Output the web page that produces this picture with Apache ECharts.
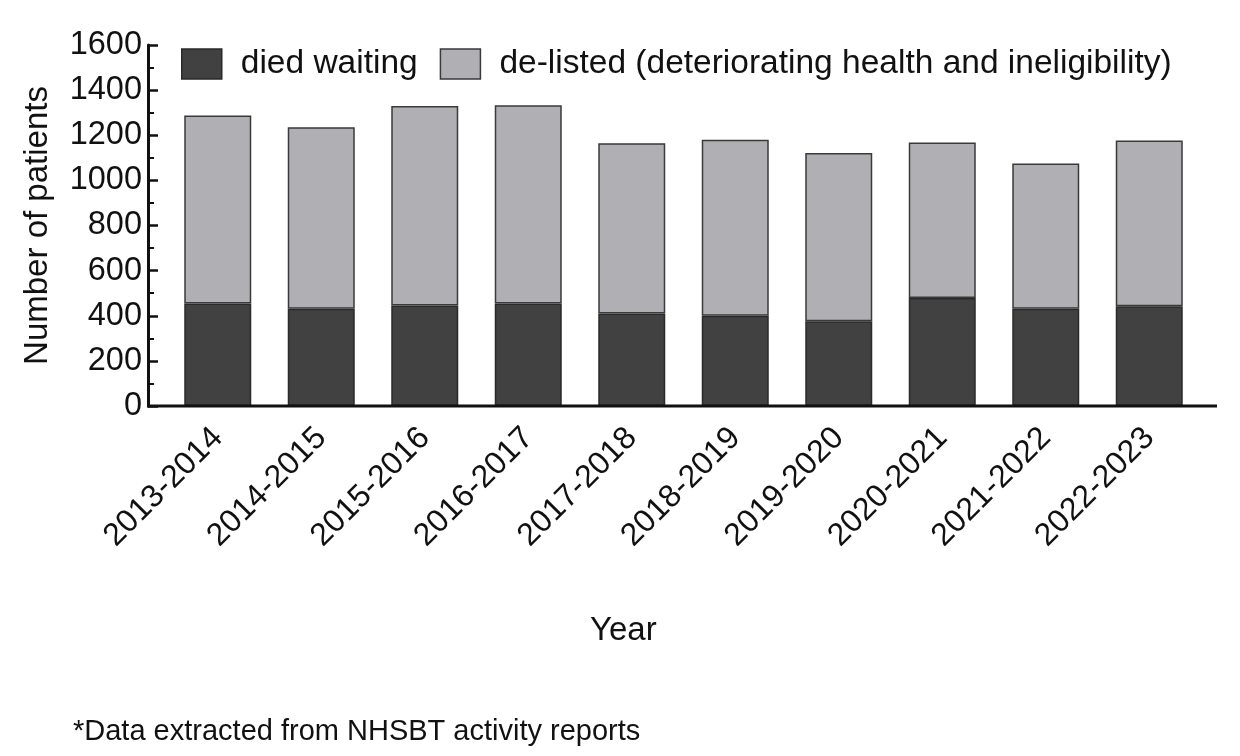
<!DOCTYPE html>
<html><head><meta charset="utf-8">
<script src="https://cdn.jsdelivr.net/npm/echarts@6/dist/echarts.min.js"></script>
<style>html,body{margin:0;padding:0;background:#fff}#c{width:1240px;height:756px}</style>
</head><body><div id="c"></div>
<script>
const categories = ['2013-2014','2014-2015','2015-2016','2016-2017','2017-2018','2018-2019','2019-2020','2020-2021','2021-2022','2022-2023'];
const diedWaiting = [454, 431, 445, 454, 410, 400, 376, 479, 431, 442];
const deListed = [834, 805, 885, 879, 755, 780, 745, 689, 644, 735];
const yTicks = [0, 200, 400, 600, 800, 1000, 1200, 1400, 1600];

const FONT = 'Liberation Sans, Arial, Helvetica, sans-serif';
const chart = echarts.init(document.getElementById('c'));
chart.setOption({
  backgroundColor: '#fff',
  animation: false,
  textStyle: { fontFamily: FONT, color: '#111' },
  title: [
    { text: 'Year', left: 585, top: 609, textStyle: { fontFamily: FONT, fontSize: 33, fontWeight: 'normal', color: '#111' } },
    { text: '*Data extracted from NHSBT activity reports', left: 68, top: 712, textStyle: { fontFamily: FONT, fontSize: 29, fontWeight: 'normal', color: '#111' } }
  ],
  legend: {
    left: 176, top: 42,
    icon: 'rect',
    itemWidth: 40, itemHeight: 30, itemGap: 22,
    textStyle: { fontFamily: FONT, fontSize: 33.5, color: '#111', padding: [0, 0, 0, 14] },
    data: [
      { name: 'died waiting', itemStyle: { color: '#414141', borderColor: '#2a2a2a', borderWidth: 1.5 } },
      { name: 'de-listed (deteriorating health and ineligibility)', itemStyle: { color: '#b0afb3', borderColor: '#3a3a3a', borderWidth: 1.5 } }
    ]
  },
  grid: { left: 166, right: 39, top: 45, bottom: 350 },
  xAxis: {
    type: 'category',
    data: categories,
    axisLine: { show: false },
    axisTick: { show: false },
    axisLabel: { rotate: 45, margin: 27, fontSize: 32, color: '#111', fontFamily: FONT, interval: 0 }
  },
  yAxis: {
    type: 'value',
    min: yTicks[0], max: yTicks[yTicks.length - 1], interval: 200,
    offset: 18,
    name: 'Number of patients',
    nameLocation: 'middle',
    nameGap: 94,
    nameTextStyle: { fontFamily: FONT, fontSize: 33, color: '#111' },
    axisLine: { show: true, lineStyle: { color: '#111', width: 3 } },
    axisTick: { show: true, inside: true, length: 10, lineStyle: { color: '#111', width: 2.5 } },
    minorTick: { show: true, splitNumber: 2, length: 6, lineStyle: { color: '#111', width: 2 } },
    splitLine: { show: false },
    axisLabel: { fontSize: 32.5, color: '#111', fontFamily: FONT, margin: 6, formatter: v => String(v) }
  },
  graphic: [
    { type: 'line', shape: { x1: 147, y1: 406, x2: 1217, y2: 406 }, style: { stroke: '#111', lineWidth: 3 }, z: 100 }
  ],
  series: [
    { name: 'died waiting', type: 'bar', stack: 't', barWidth: 67, data: diedWaiting,
      itemStyle: { color: '#414141', borderColor: '#2a2a2a', borderWidth: 1.5 } },
    { name: 'de-listed (deteriorating health and ineligibility)', type: 'bar', stack: 't', barWidth: 67, data: deListed,
      itemStyle: { color: '#b0afb3', borderColor: '#3a3a3a', borderWidth: 1.5 } }
  ]
});
</script></body></html>
